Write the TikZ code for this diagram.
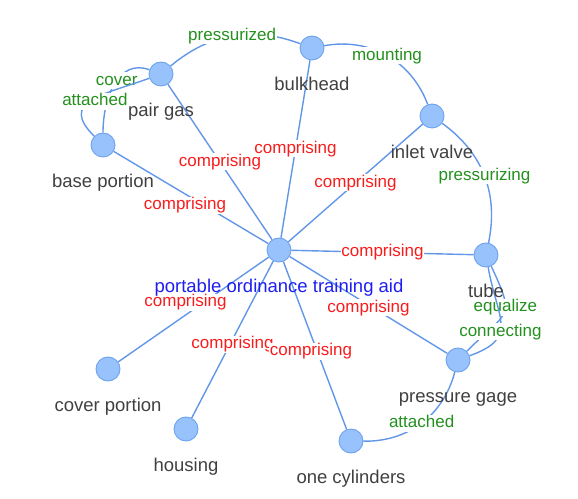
\documentclass[tikz,border=0pt]{standalone}
\usepackage{fontspec}
\setmainfont{Liberation Sans}
\usepackage{xcolor}
\usepackage{tikz}
\usetikzlibrary{positioning}

\definecolor{nodefill}{HTML}{97C2FC}
\definecolor{nodeedge}{HTML}{6FA3EE}
\definecolor{edgeblue}{HTML}{6297E8}
\definecolor{labelgray}{HTML}{404040}
\definecolor{rootblue}{HTML}{1E1EF0}
\definecolor{relred}{HTML}{F81C1C}
\definecolor{actgreen}{HTML}{24901E}
\newcommand{\entfont}{\fontsize{18.5}{20}\selectfont}
\newcommand{\relfont}{\fontsize{17}{18}\selectfont}

\begin{document}
\begin{tikzpicture}[
    x=1pt, y=1pt,
    ent/.style={circle, draw=nodeedge, fill=nodefill, line width=0.9pt,
                minimum size=24pt, inner sep=0pt},
    lbl/.style={font=\entfont, text=labelgray, inner sep=0pt,
                text height=13.5pt, text depth=4pt},
    rootlbl/.style={lbl, text=rootblue},
    rel/.style={font=\relfont, text=relred, fill=white, inner sep=0.5pt,
                text height=12.5pt, text depth=3.5pt},
    act/.style={rel, text=actgreen},
    link/.style={draw=edgeblue, line width=1.4pt},
]
\useasboundingbox (0,0) rectangle (578,498);

% Entity nodes
\node[ent] (aid)          at (279,248) {};
\node[ent] (bulkhead)     at (312,450) {};
\node[ent] (pairgas)      at (161,424) {};
\node[ent] (baseportion)  at (103,353) {};
\node[ent] (inletvalve)   at (432,382) {};
\node[ent] (tube)         at (486,243) {};
\node[ent] (gage)         at (458,138) {};
\node[ent] (coverportion) at (108,129) {};
\node[ent] (housing)      at (186,69)  {};
\node[ent] (cylinders)    at (351,57)  {};

% Spokes from the root
\draw[link] (aid) -- node[rel, xshift=-6pt, yshift=-8pt] (c-base) {comprising} (baseportion);
\draw[link] (aid) -- node[rel] (c-pair) {comprising} (pairgas);
\draw[link] (aid) -- node[rel] (c-bulk) {comprising} (bulkhead);
\draw[link] (aid) -- node[rel] (c-inlet) {comprising} (inletvalve);
\draw[link] (aid) -- node[rel] (c-tube) {comprising} (tube);
\draw[link] (aid) -- node[rel, yshift=-3pt] (c-gage) {comprising} (gage);
\draw[link] (aid) -- node[rel, xshift=-8pt, yshift=7pt] (c-cover) {comprising} (coverportion);
\draw[link] (aid) -- node[rel, yshift=-5pt] (c-housing) {comprising} (housing);
\draw[link] (aid) -- node[rel, xshift=-4pt, yshift=-6pt] (c-cyl) {comprising} (cylinders);

% Links round the rim
\draw[link] (pairgas) to[bend left=30] node[act] (a-press) {pressurized} (bulkhead);
\draw[link] (bulkhead) to[bend left=40] node[act] (a-mount) {mounting} (inletvalve);
\draw[link] (inletvalve) to[bend left=33] node[act] (a-pressz) {pressurizing} (tube);
\draw[link] (tube) to[out=-65, in=45, looseness=1.7] node[act, pos=0.4] (a-equal) {equalize} (gage);
\draw[link] (tube) to[out=-80, in=20, looseness=1.5] node[act, pos=0.6] (a-conn) {connecting} (gage);
\draw[link] (gage) to[bend left=38] node[act] (a-att) {attached} (cylinders);
\draw[link] (pairgas) to[out=160, in=90, looseness=1.1] node[act, pos=0.45] (a-cover) {cover} (baseportion);
\draw[link] (pairgas) to[out=200, in=135, looseness=1.6] node[act, pos=0.45, yshift=-3pt] (a-att2) {attached} (baseportion);

% Node captions
\node[rootlbl] (aid-t)          [below=16pt of aid]          {portable ordinance training aid};
\node[lbl]     (bulkhead-t)     [below=16pt of bulkhead]     {bulkhead};
\node[lbl]     (pairgas-t)      [below=16pt of pairgas]      {pair gas};
\node[lbl]     (baseportion-t)  [below=16pt of baseportion]  {base portion};
\node[lbl]     (inletvalve-t)   [below=16pt of inletvalve]   {inlet valve};
\node[lbl]     (tube-t)         [below=16pt of tube]         {tube};
\node[lbl]     (gage-t)         [below=16pt of gage]         {pressure gage};
\node[lbl]     (coverportion-t) [below=16pt of coverportion] {cover portion};
\node[lbl]     (housing-t)      [below=16pt of housing]      {housing};
\node[lbl]     (cylinders-t)    [below=16pt of cylinders]    {one cylinders};
\end{tikzpicture}
\end{document}
